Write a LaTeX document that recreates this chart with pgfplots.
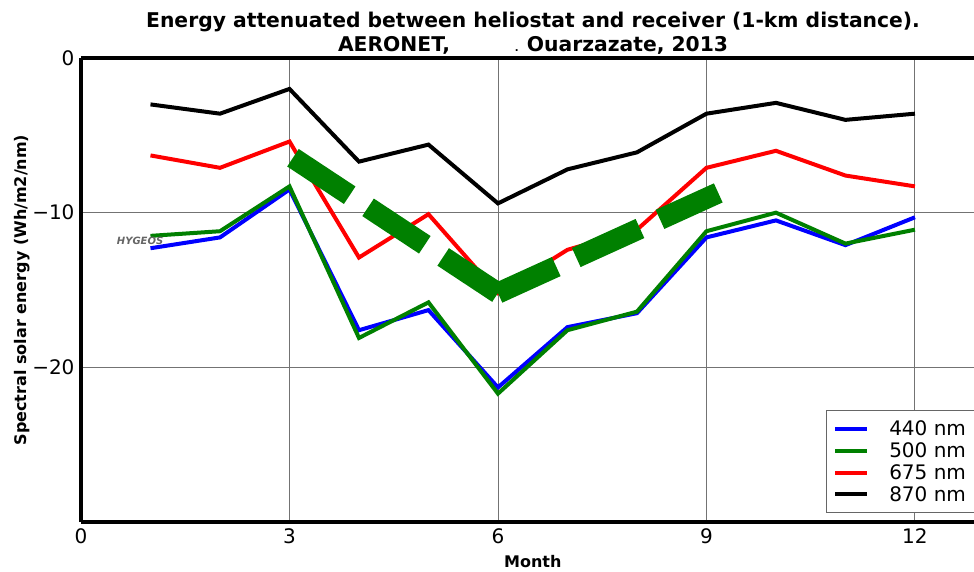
\documentclass[border=0pt]{standalone}
\usepackage{fontspec}
\setmainfont{DejaVu Sans}
\usepackage{pgfplots}
\pgfplotsset{compat=1.18}
\definecolor{mplgreen}{RGB}{0,128,0}
\definecolor{mplblue}{RGB}{0,0,255}
\definecolor{mplred}{RGB}{255,0,0}
\definecolor{gridgray}{RGB}{115,115,115}

% monthly attenuated spectral energy (Wh/m2/nm)
\pgfplotstableread{
month  w440   w500   w675   w870
1     -12.3  -11.5   -6.3   -3.0
2     -11.6  -11.2   -7.1   -3.6
3      -8.5   -8.3   -5.4   -2.0
4     -17.6  -18.1  -12.9   -6.7
5     -16.3  -15.8  -10.1   -5.6
6     -21.3  -21.7  -15.2   -9.4
7     -17.4  -17.6  -12.4   -7.2
8     -16.5  -16.4  -11.1   -6.1
9     -11.6  -11.2   -7.1   -3.6
10    -10.5  -10.0   -6.0   -2.9
11    -12.1  -12.0   -7.6   -4.0
12    -10.3  -11.1   -8.3   -3.6
}\energy

\begin{document}
\begin{tikzpicture}
\begin{axis}[
  name=ax,
  scale only axis, width=893pt, height=464pt,
  xmin=0, xmax=12.85, ymin=-30, ymax=0,
  axis y line*=left,
  axis line style={line width=4pt},
  xtick={0,3,6,9,12}, xticklabels={0,3,6,9,12},
  ytick={-20,-10,0}, yticklabels={−20,−10,0},
  major tick length=0pt,
  grid=major, major grid style={gridgray, line width=0.9pt},
  tick label style={font=\fontsize{20}{24}\selectfont},
  xticklabel style={yshift=-3pt},
  yticklabel style={xshift=-3pt},
  xlabel={Month},
  ylabel={Spectral solar energy (Wh/m2/nm)},
  label style={font=\bfseries\fontsize{16}{19}\selectfont},
  xlabel style={at={(axis description cs:0.506,0)}, anchor=center, yshift=-40pt},
  ylabel style={at={(axis description cs:-0.066,0.5)}, anchor=center},
  clip=false,
  legend style={at={(0.834,0.241)}, anchor=north west, draw=black!60,
    line width=1pt, font=\fontsize{20}{22}\selectfont,
    inner xsep=7pt, inner ysep=8pt, row sep=1.5pt},
  legend cell align=left,
  legend image code/.code={\draw[#1, line width=4pt] (0pt,0pt) -- (32pt,0pt);
    \path (50pt,0pt);},
]
\addplot[mplblue, line width=4pt] table[x=month, y=w440] {\energy};
\addlegendentry{440 nm\hspace{14pt}}
\addplot[mplgreen, line width=4pt] table[x=month, y=w500] {\energy};
\addlegendentry{500 nm\hspace{14pt}}
\addplot[mplred, line width=4pt] table[x=month, y=w675] {\energy};
\addlegendentry{675 nm\hspace{14pt}}
\addplot[black, line width=4pt] table[x=month, y=w870] {\energy};
\addlegendentry{870 nm\hspace{14pt}}
% thick dashed "V" drawn as two strokes meeting at June
\addplot[mplgreen, line width=21pt, dash pattern=on 68pt off 22pt, forget plot]
  coordinates {(3.05,-6.45) (6,-15.2)};
\addplot[mplgreen, line width=21pt, dash pattern=on 64pt off 22pt on 70pt off 22pt, forget plot]
  coordinates {(6,-15.2) (9.2,-8.66)};
\node[font=\bfseries\itshape\fontsize{10}{12}\selectfont, text=black!60] at (axis cs:0.85,-11.83) {HYGEOS};
\node[font=\bfseries\fontsize{20.3}{24}\selectfont, anchor=base] at (axis cs:6.505,1.94)
  {Energy attenuated between heliostat and receiver (1-km distance).};
\node[font=\bfseries\fontsize{20.3}{24}\selectfont, anchor=base] at (axis cs:6.505,0.45)
  {AERONET,\hspace{3.2em}{\fontsize{10}{12}\selectfont.}\hspace{0.4em}Ouarzazate, 2013};
\end{axis}
\pgfresetboundingbox
\path[use as bounding box] ([xshift=-81pt,yshift=-49pt]ax.south west) rectangle ([yshift=58pt]ax.north east);
\end{tikzpicture}
\end{document}
